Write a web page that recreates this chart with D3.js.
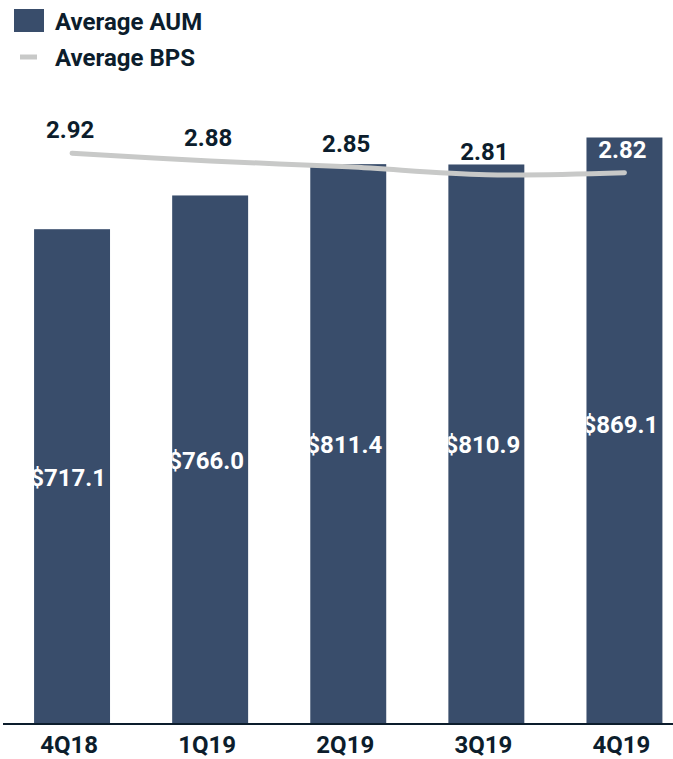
<!DOCTYPE html>
<html>
<head>
<meta charset="utf-8">
<script src="https://cdn.jsdelivr.net/npm/d3@7"></script>
<style>
  html, body { margin: 0; padding: 0; background: #ffffff; }
  svg { display: block; }
  text { font-family: Roboto, "Noto Sans", sans-serif; font-weight: 700; }
</style>
</head>
<body>
<svg id="chart" width="673" height="759"></svg>
<script>
// Quarterly average assets under management ($ billions) and fee rate (bps)
const quarters = ["4Q18", "1Q19", "2Q19", "3Q19", "4Q19"];
const averageAUM = [717.1, 766.0, 811.4, 810.9, 869.1];
const averageBPS = [2.92, 2.88, 2.85, 2.81, 2.82];
const aumLabels = ["$717.1", "$766.0", "$811.4", "$810.9", "$869.1"];
const bpsLabels = ["2.92", "2.88", "2.85", "2.81", "2.82"];
const legendItems = ["Average AUM", "Average BPS"];

const BAR = "#394d6b";
const LINE = "#c8c9c8";
const INK = "#0c1d2c";

const svg = d3.select("#chart");
const plotTop = 137.5, plotBottom = 724;

const x = d3.scaleBand()
  .domain(quarters)
  .range([3, 693.5])
  .paddingInner(0.45)
  .paddingOuter(0.225);

// primary axis for AUM, secondary axis for BPS
const y = d3.scaleLinear().domain([0, 850]).range([plotBottom, plotTop]);
const y2 = d3.scaleLinear().domain([0, 3.0]).range([plotBottom, plotTop]);

svg.append("defs").append("clipPath").attr("id", "plot-area")
  .append("rect")
  .attr("x", 0).attr("y", plotTop)
  .attr("width", 673).attr("height", plotBottom - plotTop);

// bars
svg.append("g").attr("clip-path", "url(#plot-area)")
  .selectAll("rect")
  .data(quarters)
  .join("rect")
  .attr("x", d => x(d))
  .attr("y", (d, i) => y(averageAUM[i]))
  .attr("width", x.bandwidth())
  .attr("height", (d, i) => y(0) - y(averageAUM[i]))
  .attr("fill", BAR);

// AUM labels, white, centred in each bar (clipped to the bar)
const barClip = svg.append("defs");
quarters.forEach((q, i) => {
  barClip.append("clipPath").attr("id", "bar-clip-" + i)
    .append("rect")
    .attr("x", x(q)).attr("y", y(averageAUM[i]))
    .attr("width", x.bandwidth()).attr("height", y(0) - y(averageAUM[i]));
});
svg.append("g")
  .selectAll("text")
  .data(quarters)
  .join("text")
  .attr("clip-path", (d, i) => "url(#bar-clip-" + i + ")")
  .attr("x", d => x(d) + x.bandwidth() / 2 - 4)
  .attr("y", (d, i) => (y(averageAUM[i]) + y(0)) / 2 + 9)
  .attr("text-anchor", "middle")
  .attr("font-size", 24)
  .attr("fill", "#ffffff")
  .text((d, i) => aumLabels[i]);

// axis baseline
svg.append("line")
  .attr("x1", 3).attr("x2", 673)
  .attr("y1", plotBottom).attr("y2", plotBottom)
  .attr("stroke", INK).attr("stroke-width", 2);

// category labels
const xAxis = d3.axisBottom(x).tickSize(0).tickPadding(0);
const axisG = svg.append("g")
  .attr("transform", `translate(-3, ${plotBottom})`)
  .call(xAxis);
axisG.select(".domain").remove();
axisG.selectAll("text")
  .attr("dy", null)
  .attr("y", 29)
  .attr("font-size", 24)
  .attr("font-family", "Roboto, sans-serif")
  .attr("font-weight", 700)
  .attr("fill", INK);

// BPS line
const line = d3.line()
  .x((d, i) => x(quarters[i]) + x.bandwidth() / 2)
  .y(d => y2(d))
  .curve(d3.curveCatmullRom.alpha(0.5));

svg.append("path")
  .datum(averageBPS)
  .attr("d", line)
  .attr("fill", "none")
  .attr("stroke", LINE)
  .attr("stroke-width", 5)
  .attr("stroke-linecap", "round");

// BPS labels above the line; white where they sit on a bar
svg.append("g")
  .selectAll("text")
  .data(averageBPS)
  .join("text")
  .attr("x", (d, i) => x(quarters[i]) + x.bandwidth() / 2 - 2)
  .attr("y", d => y2(d) - 15)
  .attr("text-anchor", "middle")
  .attr("font-size", 24)
  .attr("fill", (d, i) => (y2(d) - 32 > y(averageAUM[i]) || i === 4) ? "#ffffff" : INK)
  .text((d, i) => bpsLabels[i]);

// legend
const legend = svg.append("g");
legend.append("rect")
  .attr("x", 14).attr("y", 9).attr("width", 30).attr("height", 23)
  .attr("fill", BAR);
legend.append("line")
  .attr("x1", 20).attr("x2", 37).attr("y1", 57).attr("y2", 57)
  .attr("stroke", LINE).attr("stroke-width", 5);
legend.selectAll("text")
  .data(legendItems)
  .join("text")
  .attr("x", 55)
  .attr("y", (d, i) => 29.5 + i * 36)
  .attr("font-size", 24)
  .attr("fill", INK)
  .text(d => d);
</script>
</body>
</html>
